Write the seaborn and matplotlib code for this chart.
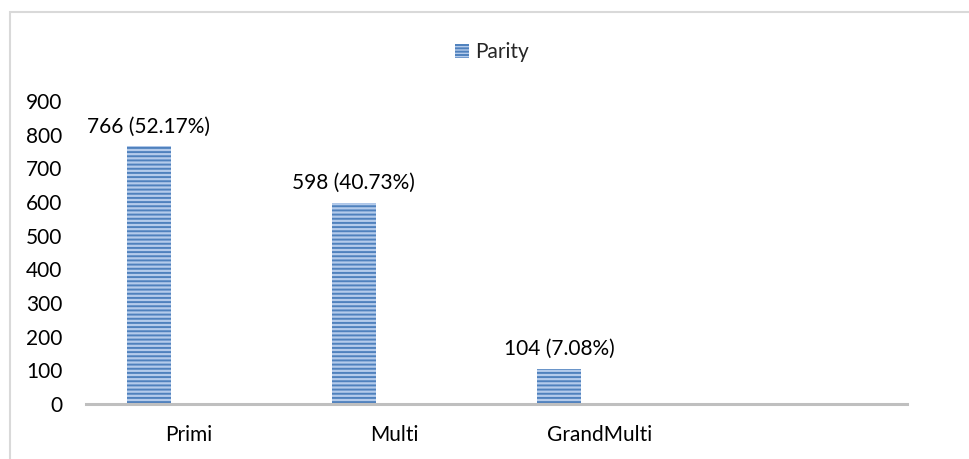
import matplotlib
matplotlib.use('Agg')
import matplotlib.pyplot as plt
import seaborn as sns
import pandas as pd
from matplotlib.patches import Rectangle

categories = ['Primi', 'Multi', 'GrandMulti']
counts = [766, 598, 104]
percents = ['52.17%', '40.73%', '7.08%']
series_name = 'Parity'
y_ticks = [0, 100, 200, 300, 400, 500, 600, 700, 800, 900]

sns.set_style('white')
plt.rcParams['font.family'] = ['Lato', 'DejaVu Sans']
plt.rcParams['hatch.linewidth'] = 1.4

FS = 15

df = pd.DataFrame({'cat': categories, 'value': counts, 'series': series_name})

fig = plt.figure(figsize=(9.69, 4.59), dpi=100)
ax = fig.add_axes([86 / 969, 1 - 404 / 459, 821 / 969, 303 / 459])

# empty 4th slot and an empty second series, like the Excel original
order = categories + ['']
sns.barplot(data=df, x='cat', y='value', hue='series', order=order,
            hue_order=[series_name, ' '], width=0.78, gap=0.45, dodge=True,
            palette=['#B4CBEB', '#B4CBEB'], legend=False,
            edgecolor='#4F81BD', linewidth=0, saturation=1, ax=ax)

for p in ax.patches:
    p.set_hatch('----')
    p.set_edgecolor('#4F81BD')
    p.set_linewidth(0)

labels = [f'{c} ({p})' for c, p in zip(counts, percents)]
ax.bar_label(ax.containers[0], labels=labels, padding=7, fontsize=FS, color='#000000')

ax.set_xlim(-0.5, len(order) - 0.5)
ax.set_ylim(0, 900)
ax.set_yticks(y_ticks)
ax.tick_params(axis='y', length=0, pad=17, labelsize=FS, labelcolor='#000000')
ax.tick_params(axis='x', length=0, pad=15, labelsize=FS, labelcolor='#000000')
ax.set_xlabel('')
ax.set_ylabel('')
for s in ['top', 'right', 'left']:
    ax.spines[s].set_visible(False)
ax.spines['bottom'].set_color('#BFBFBF')
ax.spines['bottom'].set_linewidth(2.2)
ax.spines['bottom'].set_zorder(5)

handle = Rectangle((0, 0), 1, 1, facecolor='#B4CBEB', edgecolor='#4F81BD',
                   hatch='-----', linewidth=0)
fig.legend([handle], [series_name], loc='center', bbox_to_anchor=(492 / 969, 1 - 52 / 459),
           frameon=False, fontsize=FS, handlelength=0.65, handleheight=0.65,
           handletextpad=0.3)

fig.patches.append(Rectangle((10 / 969, -0.1), 2, 1.1 - 12 / 459, transform=fig.transFigure,
                             fill=False, edgecolor='#D9D9D9', linewidth=1.5))

plt.savefig('out.png', dpi=100)
plt.close()
